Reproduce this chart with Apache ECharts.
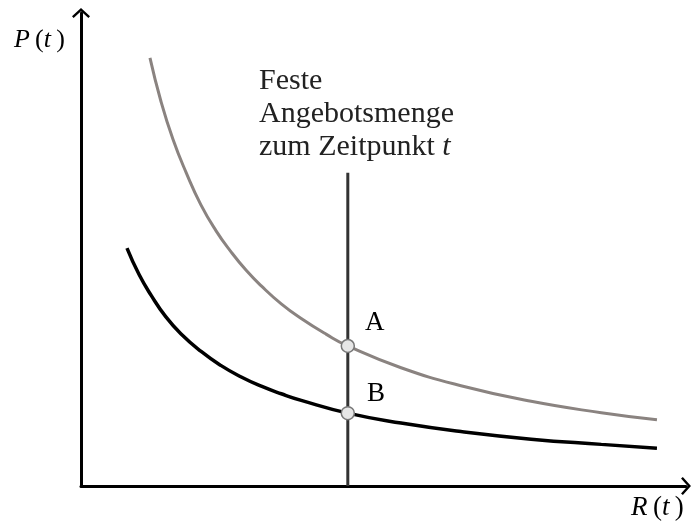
<!DOCTYPE html>
<html>
<head>
<meta charset="utf-8">
<script src="https://cdn.jsdelivr.net/npm/echarts@6/dist/echarts.min.js"></script>
<style>
  html, body { margin: 0; padding: 0; background: #fff; }
  #main { width: 693px; height: 525px; }
</style>
</head>
<body>
<div id="main"></div>
<script>
// Werte (Achsen 0..100, ohne Einheiten)
var highR = [11.4, 13.2, 15.2, 17.4, 19.8, 22.3, 24.8, 27.3, 29.8, 33.1, 36.4, 40.5, 44.1, 52.9, 62.8, 74.4, 86.0, 95.2];
var highP = [90.5, 81.4, 73.3, 66.2, 59.5, 54.0, 49.5, 45.6, 42.3, 38.5, 35.4, 32.1, 29.6, 25.0, 21.2, 17.9, 15.5, 14.0];
var lowR = [7.6, 9.6, 11.6, 14.0, 16.5, 19.8, 23.1, 26.4, 29.8, 33.1, 36.4, 44.1, 52.9, 62.8, 74.4, 86.0, 95.2];
var lowP = [50.3, 44.7, 40.3, 35.8, 32.2, 28.5, 25.5, 23.1, 21.1, 19.5, 18.1, 15.4, 13.3, 11.5, 9.9, 8.8, 8.0];
var supplyR = 44.1;
var supplyTop = 66.2;
var pointA = [44.1, 29.6];
var pointB = [44.1, 15.4];

function pairs(xs, ys) {
    return xs.map(function (x, i) { return [x, ys[i]]; });
}

var serif = '"Liberation Serif", "DejaVu Serif", serif';
// offener Pfeil (Winkel), zeigt nach oben
var chevron = 'path://M0,0 L10,9 L8.2,11 L0,3.6 L-8.2,11 L-10,9 Z';

var axisCommon = {
    type: 'value',
    min: 0,
    max: 100,
    axisLine: {
        show: true,
        symbol: ['none', chevron],
        symbolSize: [18, 10],
        lineStyle: { color: '#000', width: 3 }
    },
    axisTick: { show: false },
    axisLabel: { show: false },
    splitLine: { show: false }
};

var myChart = echarts.init(document.getElementById('main'));
var option = {
    animation: false,
    backgroundColor: '#fff',
    grid: { left: 81, top: 13, width: 605, height: 473 },
    xAxis: axisCommon,
    yAxis: axisCommon,
    series: [
        {
            name: 'hoch',
            type: 'line',
            data: pairs(highR, highP),
            smooth: 0.5,
            symbol: 'none',
            lineStyle: { color: '#8a8380', width: 3 },
            z: 3
        },
        {
            name: 'niedrig',
            type: 'line',
            data: pairs(lowR, lowP),
            smooth: 0.5,
            symbol: 'none',
            lineStyle: { color: '#000', width: 3.5 },
            z: 3
        },
        {
            name: 'Angebot',
            type: 'line',
            data: [[supplyR, 0], [supplyR, supplyTop]],
            symbol: 'none',
            lineStyle: { color: '#333', width: 3 },
            z: 4
        },
        {
            name: 'Punkte',
            type: 'scatter',
            data: [pointA, pointB],
            symbol: 'circle',
            symbolSize: 13,
            itemStyle: { color: '#e6e6e6', borderColor: '#777', borderWidth: 1.5, opacity: 1 },
            z: 5
        }
    ],
    graphic: [
        {
            type: 'text', x: 14, y: 40,
            style: {
                text: '{i|P}\u2009({i|t}\u2009)',
                font: '26px ' + serif, fill: '#000', verticalAlign: 'middle',
                rich: { i: { fontStyle: 'italic', fontFamily: serif, fontSize: 26 } }
            }
        },
        {
            type: 'text', x: 631, y: 508,
            style: {
                text: '{i|R}\u2009({i|t}\u2009)',
                font: '27px ' + serif, fill: '#000', verticalAlign: 'middle',
                rich: { i: { fontStyle: 'italic', fontFamily: serif, fontSize: 27 } }
            }
        },
        {
            type: 'text', x: 259, y: 81,
            style: { text: 'Feste', font: '30px ' + serif, fill: '#222', verticalAlign: 'middle' }
        },
        {
            type: 'text', x: 259, y: 114,
            style: { text: 'Angebotsmenge', font: '30px ' + serif, fill: '#222', verticalAlign: 'middle' }
        },
        {
            type: 'text', x: 259, y: 147,
            style: {
                text: 'zum Zeitpunkt {i|t}',
                font: '30px ' + serif, fill: '#222', verticalAlign: 'middle',
                rich: { i: { fontStyle: 'italic', fontFamily: serif, fontSize: 30 } }
            }
        },
        {
            type: 'text', x: 365, y: 323,
            style: { text: 'A', font: '27px ' + serif, fill: '#000', verticalAlign: 'middle' }
        },
        {
            type: 'text', x: 367, y: 394,
            style: { text: 'B', font: '27px ' + serif, fill: '#000', verticalAlign: 'middle' }
        }
    ]
};
myChart.setOption(option);
</script>
</body>
</html>
